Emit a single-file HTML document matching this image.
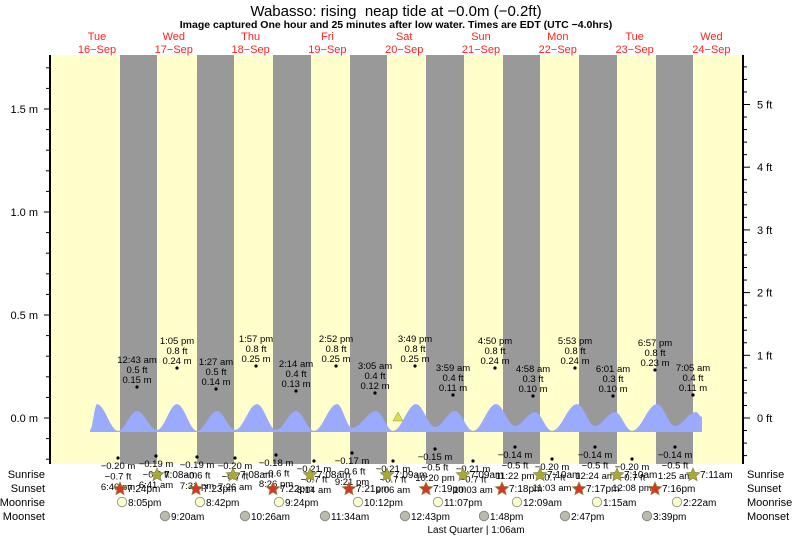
<!DOCTYPE html>
<html><head><meta charset="utf-8"><style>
body{margin:0;background:#fff}
svg{display:block;font-family:"Liberation Sans",sans-serif}
</style></head><body>
<svg id="s" width="793" height="537" xmlns="http://www.w3.org/2000/svg">
<rect x="50" y="55" width="693" height="409" fill="#ffffcc"/>
<g id="g"></g>
<text x="396" y="16" font-size="15" text-anchor="middle">Wabasso: rising&#160; neap tide at −0.0m (−0.2ft)</text>
<text x="396" y="28" font-size="10.5" font-weight="bold" text-anchor="middle">Image captured One hour and 25 minutes after low water. Times are EDT (UTC −4.0hrs)</text>
</svg>
<script>
var g=document.getElementById('g'),h='';
function X(t){return 58.6+3.2*t}
function Y(m){return 418-206*m}
var nb=[[120,157],[197,234],[273,311],[350,387],[426,464],[503,540],[579,617],[656,693]];
nb.forEach(function(b){h+='<rect x="'+b[0]+'" y="55" width="'+(b[1]-b[0])+'" height="409" fill="#999"/>';});
var days=[['Tue','16−Sep'],['Wed','17−Sep'],['Thu','18−Sep'],['Fri','19−Sep'],['Sat','20−Sep'],['Sun','21−Sep'],['Mon','22−Sep'],['Tue','23−Sep'],['Wed','24−Sep']];
days.forEach(function(d,i){var x=97+76.8*i;h+='<text x="'+x+'" y="40" font-size="11" fill="#f22" text-anchor="middle">'+d[0]+'</text><text x="'+x+'" y="53" font-size="11" fill="#f22" text-anchor="middle">'+d[1]+'</text>';});
var ext=[[90,430],[97,404],[118,431],[137,411],[157,430],[177,404],[197,431],[217,411],[235,430],[257,404],[276,430],[296,411],[314,431],[337,404],[352,428],[376,411],[393,431],[416,404],[435,427],[455,411],[473,431],[496,404],[515,426],[535,412],[552,431],[577,404],[595,426],[615,412],[632,431],[657,404],[675,426],[696,412],[702,417]];
var p='M90,432';
for(var i=0;i<ext.length-1;i++){var a=ext[i],b=ext[i+1];for(var k=0;k<=8;k++){var f=k/8,x=a[0]+(b[0]-a[0])*f,y=a[1]+(b[1]-a[1])*(1-Math.cos(Math.PI*f))/2;p+=' L'+x.toFixed(1)+','+y.toFixed(1);}}
p+=' L702,432 Z';
h+='<path d="'+p+'" fill="#99aaff"/>';
h+='<polygon points="393,421 403,421 398,412" fill="#dddd44" stroke="#888" stroke-width="0.5"/>';
h+='<line x1="50" y1="55" x2="50" y2="464" stroke="#000" stroke-width="2"/><line x1="743" y1="55" x2="743" y2="464" stroke="#000" stroke-width="2"/>';
for(var m=-0.2;m<=1.75;m+=0.1){var y=Y(m);var maj=Math.abs(Math.round(m*2)-m*2)<0.01;h+='<line x1="'+(maj?44:46)+'" y1="'+y+'" x2="50" y2="'+y+'" stroke="#000"/>';}
['0.0','0.5','1.0','1.5'].forEach(function(l,i){h+='<text x="38" y="'+(Y(i*0.5)+4)+'" font-size="11" text-anchor="end">'+l+' m</text>';});
for(var f=-0.6;f<=5.7;f+=0.2){var y=418-62.7*f;if(y<55)continue;var maj=Math.abs(Math.round(f)-f)<0.01;h+='<line x1="743" y1="'+y+'" x2="'+(maj?750:747)+'" y2="'+y+'" stroke="#000"/>';}
for(var f=0;f<=5;f++){h+='<text x="757" y="'+(418-62.7*f+4)+'" font-size="11">'+f+' ft</text>';}
var hi=[[137,387,'12:43 am','0.5 ft','0.15 m'],[177,368,'1:05 pm','0.8 ft','0.24 m'],[216,389,'1:27 am','0.5 ft','0.14 m'],[256,366,'1:57 pm','0.8 ft','0.25 m'],[296,391,'2:14 am','0.4 ft','0.13 m'],[336,366,'2:52 pm','0.8 ft','0.25 m'],[375,393,'3:05 am','0.4 ft','0.12 m'],[415,366,'3:49 pm','0.8 ft','0.25 m'],[453,395,'3:59 am','0.4 ft','0.11 m'],[495,368,'4:50 pm','0.8 ft','0.24 m'],[533,396,'4:58 am','0.3 ft','0.10 m'],[575,368,'5:53 pm','0.8 ft','0.24 m'],[613,396,'6:01 am','0.3 ft','0.10 m'],[655,370,'6:57 pm','0.8 ft','0.23 m'],[693,395,'7:05 am','0.4 ft','0.11 m']];
hi.forEach(function(d){h+='<circle cx="'+d[0]+'" cy="'+d[1]+'" r="1.6"/>';[d[2],d[3],d[4]].forEach(function(t,j){h+='<text x="'+d[0]+'" y="'+(d[1]-24+10*j)+'" font-size="9.5" text-anchor="middle">'+t+'</text>';});});
var lo=[[118,458,'−0.20 m','−0.7 ft','6:40 pm'],[156,456,'−0.19 m','−0.6 ft','6:41 am'],[197,457,'−0.19 m','−0.6 ft','7:31 pm'],[235,458,'−0.20 m','−0.7 ft','7:26 am'],[276,455,'−0.18 m','−0.6 ft','8:26 pm'],[314,461,'−0.21 m','−0.7 ft','8:14 am'],[352,453,'−0.17 m','−0.6 ft','9:21 pm'],[393,461,'−0.21 m','−0.7 ft','9:06 am'],[435,449,'−0.15 m','−0.5 ft','10:20 pm'],[473,461,'−0.21 m','−0.7 ft','10:03 am'],[515,447,'−0.14 m','−0.5 ft','11:22 pm'],[552,459,'−0.20 m','−0.7 ft','11:03 am'],[595,447,'−0.14 m','−0.5 ft','12:24 am'],[632,459,'−0.20 m','−0.7 ft','12:08 pm'],[675,447,'−0.14 m','−0.5 ft','1:25 am']];
lo.forEach(function(d){h+='<circle cx="'+d[0]+'" cy="'+d[1]+'" r="1.6"/>';[d[2],d[3],d[4]].forEach(function(t,j){h+='<text x="'+d[0]+'" y="'+(d[1]+11+10.5*j)+'" font-size="9.5" text-anchor="middle">'+t+'</text>';});});
[['Sunrise',478],['Sunset',492],['Moonrise',506],['Moonset',520]].forEach(function(r){h+='<text x="45" y="'+r[1]+'" font-size="11" text-anchor="end">'+r[0]+'</text><text x="747" y="'+r[1]+'" font-size="11">'+r[0]+'</text>';});
function star(cx,cy,fill){var pts=[];for(var i=0;i<10;i++){var r=i%2?3.2:7,a=-Math.PI/2+i*Math.PI/5;pts.push((cx+r*Math.cos(a)).toFixed(1)+','+(cy+r*Math.sin(a)).toFixed(1));}return '<polygon points="'+pts.join(' ')+'" fill="'+fill+'" stroke="#884" stroke-width="0.7"/>';}
var sr=[[157,'7:08am'],[233,'7:08am'],[310,'7:08am'],[387,'7:09am'],[463,'7:09am'],[540,'7:10am'],[617,'7:10am'],[693,'7:11am']];
sr.forEach(function(d){h+=star(d[0],475,'#aaaa33')+'<text x="'+(d[0]+7)+'" y="478" font-size="10">'+d[1]+'</text>';});
var ss=[[120,'7:24pm'],[196,'7:23pm'],[273,'7:22pm'],[349,'7:21pm'],[426,'7:19pm'],[502,'7:18pm'],[579,'7:17pm'],[655,'7:16pm']];
ss.forEach(function(d){h+=star(d[0],489,'#dd3322')+'<text x="'+(d[0]+7)+'" y="492" font-size="10">'+d[1]+'</text>';});
var mr=[[122,'8:05pm'],[200,'8:42pm'],[279,'9:24pm'],[358,'10:12pm'],[438,'11:07pm'],[517,'12:09am'],[597,'1:15am'],[677,'2:22am']];
mr.forEach(function(d){h+='<circle cx="'+d[0]+'" cy="502" r="4.7" fill="#ffffcc" stroke="#999"/><text x="'+(d[0]+6)+'" y="506" font-size="10">'+d[1]+'</text>';});
var ms=[[165,'9:20am'],[245,'10:26am'],[325,'11:34am'],[405,'12:43pm'],[484,'1:48pm'],[565,'2:47pm'],[647,'3:39pm']];
ms.forEach(function(d){h+='<circle cx="'+d[0]+'" cy="516" r="4.7" fill="#bbbbaa" stroke="#888"/><text x="'+(d[0]+6)+'" y="520" font-size="10">'+d[1]+'</text>';});
h+='<text x="476" y="533" font-size="10" text-anchor="middle">Last Quarter | 1:06am</text>';
g.innerHTML=h;
</script>
</body></html>
